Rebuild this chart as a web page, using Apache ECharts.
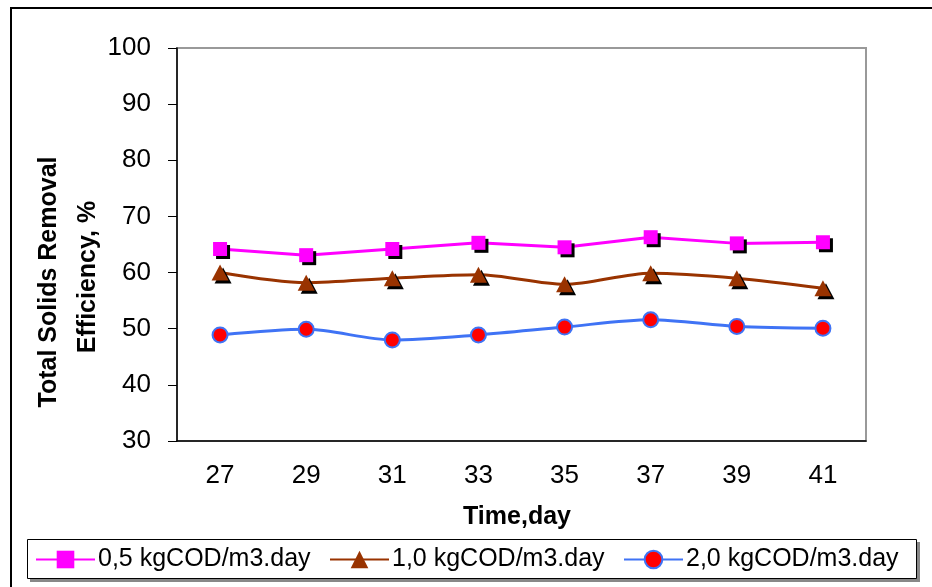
<!DOCTYPE html>
<html>
<head>
<meta charset="utf-8">
<script src="https://cdn.jsdelivr.net/npm/echarts@6/dist/echarts.min.js"></script>
<style>
  html, body { margin: 0; padding: 0; background: #fff; }
  #chart { width: 932px; height: 587px; }
</style>
</head>
<body>
<div id="chart"></div>
<script>
const days = ['27', '29', '31', '33', '35', '37', '39', '41'];
const seriesNames = ['0,5 kgCOD/m3.day', '1,0 kgCOD/m3.day', '2,0 kgCOD/m3.day'];
const load05 = [64.2, 63.1, 64.2, 65.3, 64.5, 66.3, 65.2, 65.4];
const load10 = [60.0, 58.2, 59.0, 59.6, 57.9, 59.9, 59.0, 57.2];
const load20 = [48.9, 49.9, 48.0, 48.9, 50.3, 51.6, 50.4, 50.1];
const yTicks = { min: 30, max: 100, interval: 10 };

const font = 'Arial, "Liberation Sans", sans-serif';
const chart = echarts.init(document.getElementById('chart'));

// black drop shadow under square and triangle markers
const markShadow = { shadowColor: '#000', shadowBlur: 0, shadowOffsetX: 3, shadowOffsetY: 3 };
const noShadow = { shadowColor: 'rgba(0,0,0,0)', shadowBlur: 0, shadowOffsetX: 0, shadowOffsetY: 0 };

function legendFor(name, left) {
  return {
    data: [name],
    left: left,
    top: 547,
    padding: 0,
    itemWidth: 59,
    itemHeight: 22,
    itemGap: 0,
    textStyle: { fontFamily: font, fontSize: 25, color: '#000', padding: [0, 0, 0, -2] },
    itemStyle: noShadow
  };
}

chart.setOption({
  animation: false,
  backgroundColor: '#fff',
  grid: {
    left: 177, top: 48, right: 66, bottom: 146,
    show: true, borderColor: '#999', borderWidth: 2, backgroundColor: 'transparent'
  },
  legend: [
    legendFor(seriesNames[0], 35),
    legendFor(seriesNames[1], 329),
    legendFor(seriesNames[2], 623)
  ],
  xAxis: {
    type: 'category',
    data: days,
    boundaryGap: true,
    axisLine: { lineStyle: { color: '#000', width: 1.5 } },
    axisTick: { length: 9, lineStyle: { color: '#000' } },
    axisLabel: { fontFamily: font, fontSize: 26, color: '#000', margin: 22 },
    splitLine: { show: false }
  },
  yAxis: {
    type: 'value',
    min: yTicks.min, max: yTicks.max, interval: yTicks.interval,
    axisLine: { show: true, lineStyle: { color: '#000', width: 1.5 } },
    axisTick: { show: true, length: 9, lineStyle: { color: '#000' } },
    axisLabel: { fontFamily: font, fontSize: 26, color: '#000', margin: 26 },
    splitLine: { show: false }
  },
  graphic: [
    { type: 'rect', z: -10, silent: true,
      shape: { x: 11, y: 8, width: 960, height: 620 },
      style: { fill: 'transparent', stroke: '#000', lineWidth: 2 } },
    { type: 'rect', z: -5, silent: true,
      shape: { x: 30, y: 542, width: 890, height: 40 },
      style: { fill: '#888', stroke: null } },
    { type: 'rect', z: -4, silent: true,
      shape: { x: 27.5, y: 539.5, width: 889, height: 39 },
      style: { fill: '#fff', stroke: '#000', lineWidth: 1 } },
    { type: 'text', x: 49, y: 282, rotation: Math.PI / 2,
      style: { text: 'Total Solids Removal', fontFamily: font, fontSize: 25, fontWeight: 'bold',
        fill: '#000', align: 'center', verticalAlign: 'middle' } },
    { type: 'text', x: 88, y: 277, rotation: Math.PI / 2,
      style: { text: 'Efficiency, %', fontFamily: font, fontSize: 25, fontWeight: 'bold',
        fill: '#000', align: 'center', verticalAlign: 'middle' } },
    { type: 'text', x: 517, y: 517,
      style: { text: 'Time,day', fontFamily: font, fontSize: 25, fontWeight: 'bold',
        fill: '#000', align: 'center', verticalAlign: 'middle' } }
  ],
  series: [
    {
      name: seriesNames[0], type: 'line', data: load05,
      symbol: 'rect', symbolSize: 14,
      lineStyle: { color: '#FF00FF', width: 3 },
      itemStyle: Object.assign({ color: '#FF00FF' }, markShadow)
    },
    {
      name: seriesNames[1], type: 'line', data: load10, smooth: 0.3,
      symbol: 'triangle', symbolSize: [17, 16],
      lineStyle: { color: '#993300', width: 3 },
      itemStyle: Object.assign({ color: '#993300' }, markShadow)
    },
    {
      name: seriesNames[2], type: 'line', data: load20, smooth: 0.3,
      symbol: 'circle', symbolSize: 15,
      lineStyle: { color: '#3F73F5', width: 3 },
      itemStyle: { color: '#FF0000', borderColor: '#3F73F5', borderWidth: 2 }
    }
  ]
});
</script>
</body>
</html>
